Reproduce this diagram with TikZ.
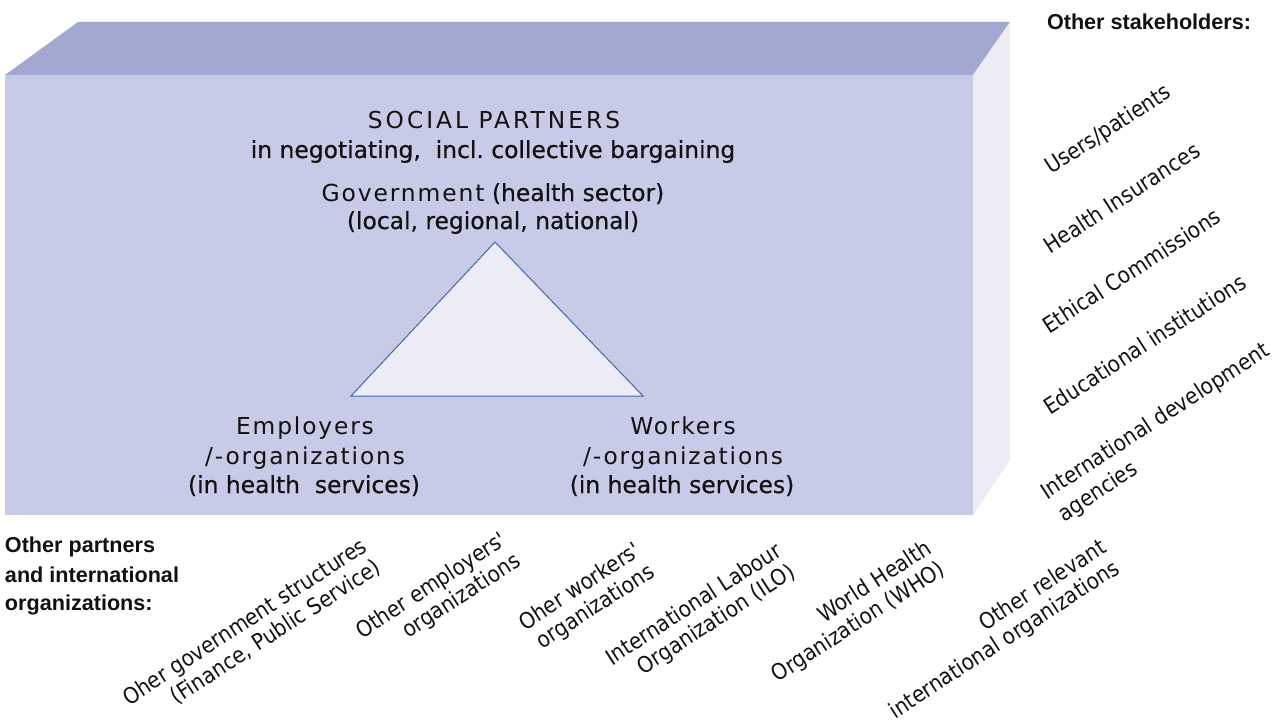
\documentclass[tikz,border=0pt]{standalone}
\usepackage{fontspec}
\setmainfont[FakeBold=0.5]{DejaVu Sans}
\newfontfamily\lightfont[LetterSpace=8]{DejaVu Sans}
\newfontfamily\capsfont[LetterSpace=13]{DejaVu Sans}
\newfontfamily\rotfont[FakeStretch=0.9]{DejaVu Sans}
\newfontfamily\headfont{Liberation Sans}
\usetikzlibrary{calc}
\definecolor{topface}{HTML}{A3A8D3}
\definecolor{frontface}{HTML}{C8CBE7}
\definecolor{sideface}{HTML}{ECECF6}
\definecolor{trifill}{HTML}{EDEDF7}
\definecolor{tristroke}{HTML}{3E69AE}
\definecolor{ink}{HTML}{111111}
\frenchspacing
\begin{document}
\begin{tikzpicture}[x=1pt,y=-1pt,
  every node/.style={inner sep=0pt, outer sep=0pt, text=ink},
  heavy/.style={font=\fontsize{23.4}{28}\selectfont, anchor=base},
  light/.style={font=\lightfont\fontsize{23.3}{28}\selectfont, anchor=base},
  head/.style={font=\headfont\bfseries\fontsize{21.6}{26}\selectfont, anchor=base west},
  rlab/.style={font=\rotfont\fontsize{22.3}{26}\selectfont, rotate=33, anchor=base west},
  rlabe/.style={rlab, anchor=base east},
]
\useasboundingbox (0,0) rectangle (1273,722);
% box faces
\fill[topface] (5,75) -- (78,22) -- (1010,22) -- (973,75) -- cycle;
\fill[sideface] (973,75) -- (1010,22) -- (1010,460) -- (973,515) -- cycle;
\fill[frontface] (5,75) rectangle (973,515);
% triangle
\coordinate (apex) at (495,242);
\coordinate (bl) at (351,396);
\coordinate (br) at (643,396);
\draw[fill=trifill, draw=tristroke, line width=1pt, line join=miter] (apex) -- (bl) -- (br) -- cycle;
% central texts
\node[light, font=\capsfont\fontsize{23.3}{28}\selectfont] (sp) at (494,129) {SOCIAL PARTNERS};
\node[heavy] (neg) at (493,158) {in negotiating,\ \ incl. collective bargaining};
\node[heavy] (gov) at (493,201) {{\lightfont Government} (health sector)};
\node[heavy] (lev) at (493,229) {(local, regional, national)};
\node[light] (emp1) at (305,434) {Employers};
\node[light] (emp2) at (305,464) {/-organizations};
\node[heavy] (emp3) at (304,493) {(in health\ \ services)};
\node[light] (wor1) at (683,434) {Workers};
\node[light] (wor2) at (683,464) {/-organizations};
\node[heavy] (wor3) at (682,493) {(in health services)};
% headings
\node[head] (stake) at (1047,30) {Other stakeholders:};
\node[head] (part1) at (5,552) {Other partners};
\node[head] (part2) at (5,582) {and international};
\node[head] (part3) at (5,610) {organizations:};
% right labels
\node[rlab] (users) at (1051,175) {Users/patients};
\node[rlab] (hins) at (1050,254) {Health Insurances};
\node[rlab] (ethic) at (1049,334) {Ethical Commissions};
\node[rlab] (educ) at (1050,415) {Educational institutions};
\node[rlab] (idev1) at (1047,500) {International development};
\node[rlab] (idev2) at ($(idev1.base west)+(17,22)$) {agencies};
% bottom labels
\node[rlab] (ogov1) at (129,706) {Oher government structures};
\node[rlabe] (ogov2) at ($(ogov1.base east)+(13.6,21)$) {(Finance, Public Service)};
\node[rlab] (oemp1) at (362,639) {Other employers'};
\node[rlabe] (oemp2) at ($(oemp1.base east)+(13.6,21)$) {organizations};
\node[rlab] (owor1) at (525,631) {Oher workers'};
\node[rlabe] (owor2) at ($(owor1.base east)+(13.6,21)$) {organizations};
\node[rlab] (ilo1) at (612,666) {International Labour};
\node[rlabe] (ilo2) at ($(ilo1.base east)+(13.6,21)$) {Organization (ILO)};
\node[rlab] (who1) at (824,623) {World Health};
\node[rlabe] (who2) at ($(who1.base east)+(13.6,21)$) {Organization (WHO)};
\node[rlab] (orel1) at (985,631) {Other relevant};
\node[rlabe] (orel2) at ($(orel1.base east)+(13.6,21)$) {international organizations};
\end{tikzpicture}
\end{document}
